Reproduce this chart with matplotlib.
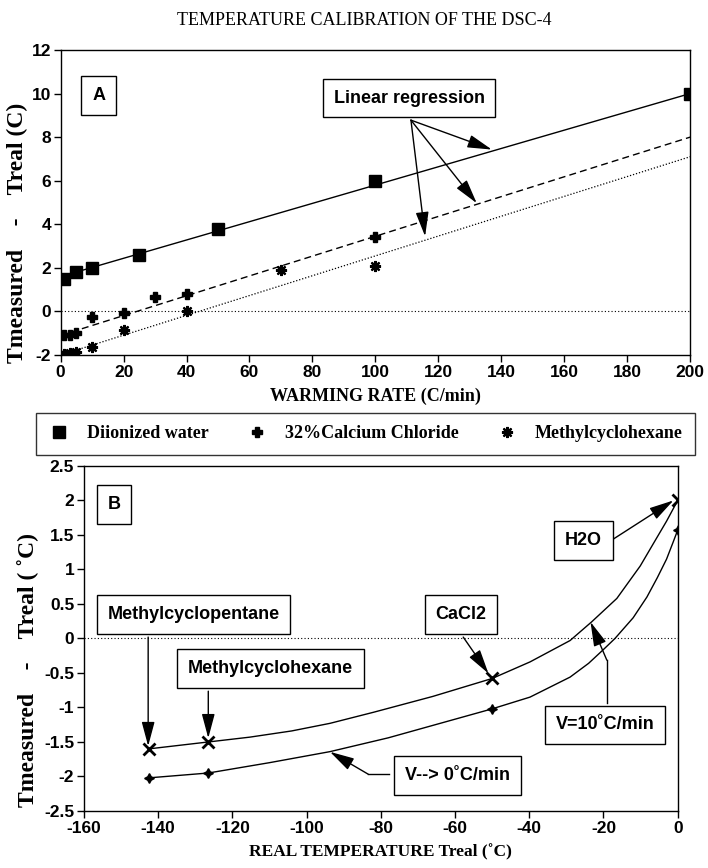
import numpy as np
import matplotlib
matplotlib.use("Agg")
import matplotlib.pyplot as plt
from matplotlib.lines import Line2D

plt.rcParams["axes.unicode_minus"] = False

# --- Panel A: Abweichung vs. Heizrate ---
rate_water = [1, 5, 10, 25, 50, 100, 200]
dev_water = [1.5, 1.8, 2.0, 2.6, 3.8, 6.0, 10.0]

rate_cacl2 = [1, 3, 5, 10, 20, 30, 40, 100]
dev_cacl2 = [-1.1, -1.1, -1.0, -0.25, -0.05, 0.65, 0.8, 3.4]

rate_mch = [1, 3, 5, 10, 20, 40, 70, 100]
dev_mch = [-1.95, -1.9, -1.85, -1.65, -0.85, 0.0, 1.9, 2.1]

# Regressionsgeraden (Endpunkte)
fit_rate = [0, 200]
fit_water = [1.6, 10.0]
fit_cacl2 = [-1.1, 8.0]
fit_mch = [-2.0, 7.1]

# --- Panel B: Abweichung vs. reale Temperatur ---
treal_pts = [-142.5, -126.5, -50, 0]
dev_v10_pts = [-1.6, -1.5, -0.58, 2.0]
dev_v0_pts = [-2.02, -1.95, -1.02, 1.57]

# Kurvenverlauf
curve_v10_x = [-142.5, -126.5, -115.3, -104.0, -93.7, -82.0, -66.0, -50.0, -39.8,
               -29.0, -23.2, -16.4, -10.1, -6.5, -3.0, 0.0]
curve_v10_y = [-1.6, -1.5, -1.43, -1.34, -1.23, -1.07, -0.84, -0.58, -0.34,
               -0.03, 0.24, 0.58, 1.05, 1.38, 1.70, 2.0]
curve_v0_x = [-142.5, -126.5, -110.0, -93.7, -78.0, -64.0, -50.0, -39.8, -29.0,
              -24.0, -20.0, -16.9, -12.0, -8.3, -5.5, -3.0, -1.2, 0.0]
curve_v0_y = [-2.02, -1.95, -1.80, -1.64, -1.44, -1.23, -1.02, -0.85, -0.56,
              -0.36, -0.16, 0.0, 0.30, 0.60, 0.88, 1.15, 1.40, 1.57]

serif = dict(family="Liberation Serif", fontweight="bold")
sans = dict(family="Liberation Sans", fontweight="bold")
box = dict(boxstyle="square,pad=0.6", fc="white", ec="black", lw=1)
arrow = dict(arrowstyle="-|>,head_length=1.5,head_width=0.4", color="black",
             lw=1, mutation_scale=10, shrinkA=0, shrinkB=0)

fig = plt.figure(figsize=(7.08, 8.68), dpi=100)
fig.text(0.515, 0.976, "TEMPERATURE CALIBRATION OF THE DSC-4", ha="center",
         va="center", fontsize=13, family="Liberation Serif")

# ---------------- Panel A ----------------
ax = fig.add_axes([0.0857, 0.591, 0.889, 0.3514])
ax.plot(fit_rate, fit_water, color="black", lw=1)
ax.plot(fit_rate, fit_cacl2, color="black", lw=1, ls=(0, (5, 3)))
ax.plot(fit_rate, fit_mch, color="black", lw=0.9, ls=(0, (1, 1.5)))
ax.axhline(0, color="black", lw=0.8, ls=(0, (1, 2)))
ax.plot(rate_water, dev_water, ls="none", marker="s", ms=8, color="black")
ax.plot(rate_cacl2, dev_cacl2, ls="none", marker="P", ms=7, color="black")
ax.plot(rate_mch, dev_mch, ls="none", marker=(8, 2, 0), ms=8, mew=1.6, color="black")
ax.set_xlim(0, 200)
ax.set_ylim(-2, 12)
ax.set_xticks(np.arange(0, 201, 20))
ax.set_yticks(np.arange(-2, 13, 2))
ax.set_xlabel("WARMING RATE (C/min)", fontsize=13, labelpad=6, **serif)
ax.set_ylabel("Tmeasured    -    Treal (C)", fontsize=17, **serif)
ax.yaxis.set_label_coords(-0.052, 0.40)

ax.text(12.1, 9.92, "A", ha="center", va="center", fontsize=13, bbox=box, **sans)
ax.text(110.7, 9.79, "Linear regression", ha="center", va="center", fontsize=13,
        bbox=box, **sans)
for end in [(137, 7.43), (132.2, 4.97), (115.8, 3.45)]:
    ax.annotate("", xy=end, xytext=(111.3, 8.78), arrowprops=arrow)

# ---------------- Legende ----------------
handles = [
    Line2D([], [], ls="none", marker="s", ms=8, color="black"),
    Line2D([], [], ls="none", marker="P", ms=7, color="black"),
    Line2D([], [], ls="none", marker=(8, 2, 0), ms=8, mew=1.6, color="black"),
]
labels = ["Diionized water", "32%Calcium Chloride", "Methylcyclohexane"]
leg = fig.legend(handles, labels, loc="lower left", ncol=3, mode="expand",
                 bbox_to_anchor=(36 / 708, 1 - 455 / 868, 659 / 708, 40 / 868),
                 frameon=True, fancybox=False, edgecolor="black",
                 prop=dict(family="Liberation Serif", weight="bold", size=13),
                 handlelength=1.2, handletextpad=0.9, borderaxespad=0,
                 borderpad=0.7)
leg.get_frame().set_linewidth(1)

# ---------------- Panel B ----------------
bx = fig.add_axes([0.1186, 0.0657, 0.8386, 0.3975])
bx.axhline(0, color="black", lw=0.8, ls=(0, (1, 2)), zorder=1)
bx.plot(curve_v10_x, curve_v10_y, color="black", lw=1)
bx.plot(curve_v0_x, curve_v0_y, color="black", lw=1)
bx.plot(treal_pts, dev_v10_pts, ls="none", marker="x", ms=8, mew=2, color="black")
bx.plot(treal_pts, dev_v0_pts, ls="none", marker=(4, 1, 0), ms=7, color="black")
bx.set_xlim(-160, 0)
bx.set_ylim(-2.5, 2.5)
bx.set_xticks(np.arange(-160, 1, 20))
bx.set_yticks(np.arange(-2.5, 2.6, 0.5))
bx.set_yticklabels(["-2.5", "-2", "-1.5", "-1", "-0.5", "0", "0.5", "1", "1.5", "2", "2.5"])
bx.set_xlabel("REAL TEMPERATURE Treal (˚C)", fontsize=12.5, labelpad=6, **serif)
bx.set_ylabel("Tmeasured    -    Treal ( ˚C)", fontsize=17, **serif)
bx.yaxis.set_label_coords(-0.076, 0.41)

bx.text(-151.9, 1.94, "B", ha="center", va="center", fontsize=13, bbox=box, **sans)
notes = [(-130.5, 0.35, "Methylcyclopentane"), (-109.65, -0.435, "Methylcyclohexane"),
         (-58.4, 0.345, "CaCl2"), (-25.4, 1.417, "H2O"),
         (-19.6, -1.252, "V=10˚C/min"), (-59.3, -1.99, "V--> 0˚C/min")]
for x, y, t in notes:
    bx.text(x, y, t, ha="center", va="center", fontsize=13, bbox=box, zorder=5, **sans)

bx.annotate("", xy=(-142.7, -1.56), xytext=(-142.7, 0.02), arrowprops=arrow)
bx.annotate("", xy=(-126.5, -1.445), xytext=(-126.5, -0.764), arrowprops=arrow)
bx.annotate("", xy=(-51.0, -0.507), xytext=(-57.8, 0.02), arrowprops=arrow)
bx.annotate("", xy=(-1.15, 2.0), xytext=(-17.5, 1.435), arrowprops=arrow)
bx.plot([-19.1, -19.1], [-0.933, -0.314], color="black", lw=1)
bx.annotate("", xy=(-23.5, 0.24), xytext=(-19.1, -0.314), arrowprops=arrow)
bx.plot([-77.7, -83.4], [-1.967, -1.967], color="black", lw=1)
bx.annotate("", xy=(-93.7, -1.643), xytext=(-83.4, -1.967), arrowprops=arrow)

for a in (ax, bx):
    a.tick_params(direction="out", length=5, width=1, labelsize=12.5, pad=2)
    for lab in a.get_xticklabels() + a.get_yticklabels():
        lab.set_family("Liberation Sans")
        lab.set_fontweight("bold")
    for s in a.spines.values():
        s.set_linewidth(1)

fig.savefig("out.png", dpi=100)
